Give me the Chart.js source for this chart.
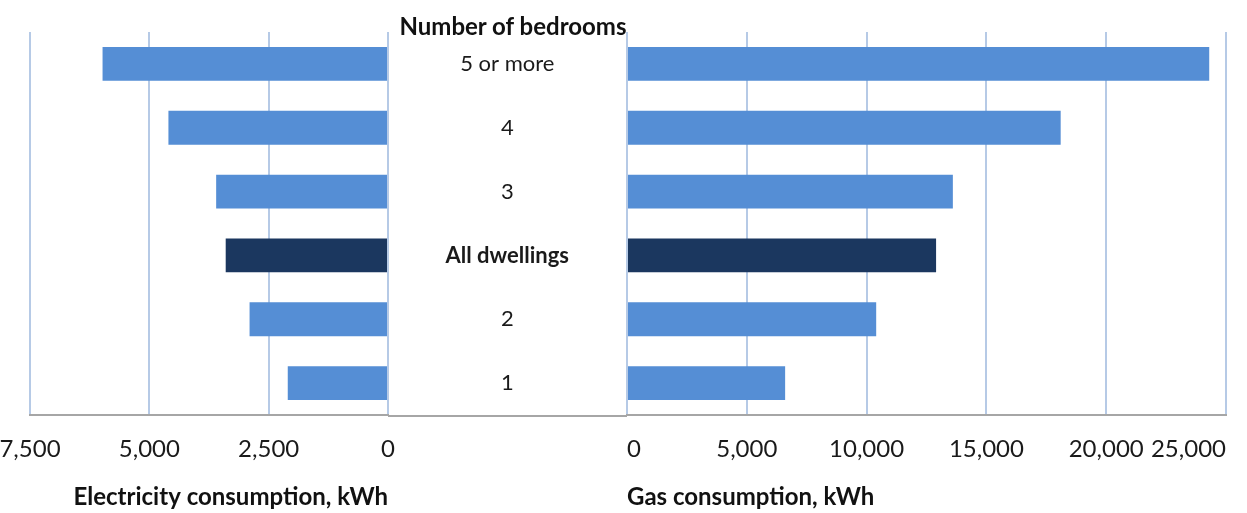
<!DOCTYPE html>
<html>
<head>
<meta charset="utf-8">
<script src="https://cdn.jsdelivr.net/npm/chart.js@4/dist/chart.umd.min.js"></script>
<style>
  html, body { margin: 0; padding: 0; background: #fff; overflow: hidden; }
  body { width: 1247px; height: 513px; position: relative; font-family: Lato, "Open Sans", sans-serif; }
  #leftWrap { position: absolute; left: 0; top: 0; width: 400px; height: 513px; }
  #rightWrap { position: absolute; left: 388px; top: 0; width: 859px; height: 513px; }
  #midTitle { position: absolute; left: 363px; width: 300px; top: 12px; text-align: center;
              font: bold 24px/28px Lato, sans-serif; color: #111; z-index: 2; }
</style>
</head>
<body>
<div id="leftWrap"><canvas id="elec"></canvas></div>
<div id="rightWrap"><canvas id="gas"></canvas></div>
<div id="midTitle">Number of bedrooms</div>
<script>
const categories = ['5 or more', '4', '3', 'All dwellings', '2', '1'];
const electricityKWh = [5980, 4600, 3600, 3400, 2900, 2100];
const gasKWh = [24300, 18100, 13600, 12900, 10400, 6600];
const highlightCategory = 'All dwellings';
const electricityTicks = [0, 2500, 5000, 7500];
const gasTicks = [0, 5000, 10000, 15000, 20000, 25000];

const LIGHT = '#558ed5';
const DARK = '#1b375f';
const GRID = 'rgba(110,150,205,0.5)';
const AXIS = '#a6a6a6';
const barColors = categories.map(c => c === highlightCategory ? DARK : LIGHT);

Chart.defaults.font.family = 'Lato, "Open Sans", sans-serif';
Chart.defaults.color = '#1a1a1a';
Chart.defaults.animation = false;

// Electricity is drawn leftwards from 0 (values negated for the axis, labels show magnitudes).
const fmt = v => Math.abs(v).toLocaleString('en-US');

function xScale(min, max, tickValues, title, titleAlign, tickAlign) {
  return {
    type: 'linear', min: min, max: max, z: 1,
    afterBuildTicks: s => { s.ticks = tickValues.map(v => ({ value: v })); },
    afterFit: s => { s.paddingLeft = 0; s.paddingRight = 0; },
    ticks: { padding: 22, align: tickAlign, font: { size: 24, lineHeight: 1 }, color: '#1a1a1a',
             callback: v => fmt(v) },
    grid: { color: GRID, lineWidth: 2, drawTicks: false },
    border: { display: true, color: AXIS, width: 2 },
    title: { display: true, text: title, align: titleAlign, font: { size: 24, weight: 'bold', lineHeight: 1 },
             color: '#111', padding: { top: 2, bottom: 4 } }
  };
}

new Chart(document.getElementById('elec'), {
  type: 'bar',
  data: { labels: categories, datasets: [{ data: electricityKWh.map(v => -v), backgroundColor: barColors,
          barPercentage: 0.53, categoryPercentage: 1 }] },
  options: {
    indexAxis: 'y', responsive: true, maintainAspectRatio: false,
    layout: { padding: { top: 32, left: 30, right: 12, bottom: 0 } },
    plugins: { legend: { display: false }, tooltip: { enabled: false } },
    scales: {
      x: xScale(-7500, 0, electricityTicks.map(v => -v), 'Electricity consumption, kWh', 'end', 'center'),
      y: { display: false }
    }
  }
});

const midLine = {
  id: 'midLine',
  afterDraw(chart) {
    const { ctx, chartArea } = chart;
    ctx.save();
    ctx.strokeStyle = AXIS; ctx.lineWidth = 2;
    ctx.beginPath();
    ctx.moveTo(0, chartArea.bottom + 1);
    ctx.lineTo(chartArea.left, chartArea.bottom + 1);
    ctx.stroke();
    ctx.restore();
  }
};

new Chart(document.getElementById('gas'), {
  type: 'bar',
  data: { labels: categories, datasets: [{ data: gasKWh, backgroundColor: barColors,
          barPercentage: 0.53, categoryPercentage: 1 }] },
  options: {
    indexAxis: 'y', responsive: true, maintainAspectRatio: false,
    layout: { padding: { top: 32, left: 0, right: 21, bottom: 0 } },
    plugins: { legend: { display: false }, tooltip: { enabled: false } },
    scales: {
      x: xScale(0, 25000, gasTicks, 'Gas consumption, kWh', 'start', 'inner'),
      y: {
        afterFit: s => { s.width = 239; s.paddingTop = 0; s.paddingBottom = 0; },
        grid: { display: false }, border: { display: false },
        ticks: {
          crossAlign: 'center', padding: 50, color: '#1a1a1a',
          font: ctx => ({ size: 22, weight: categories[ctx.index] === highlightCategory ? 'bold' : 'normal' })
        }
      }
    }
  },
  plugins: [midLine]
});
</script>
</body>
</html>
